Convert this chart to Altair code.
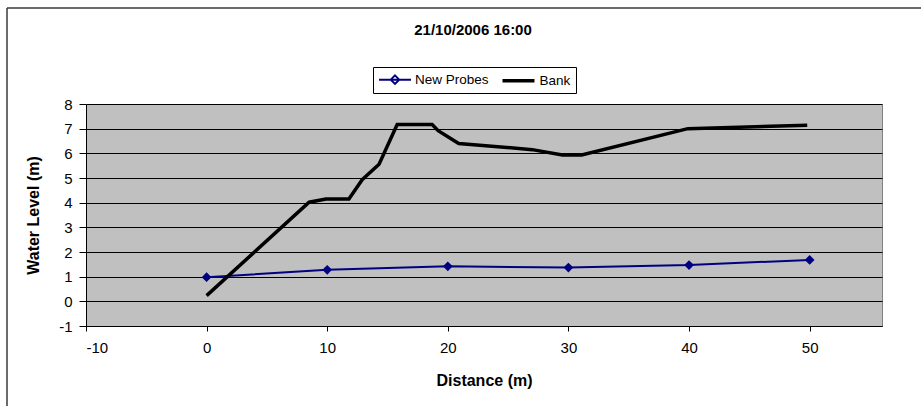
import altair as alt
import pandas as pd

# Probe readings along the transect
probe_distance = [0, 10, 20, 30, 40, 50]
probe_level = [0.98, 1.28, 1.42, 1.37, 1.47, 1.68]

# Bank profile along the same transect
bank_distance = [0, 8.5, 9.9, 11.8, 12.9, 14.3, 15.8, 18.7, 19.2, 20.9, 27.0, 29.5, 31.1, 39.9, 49.8]
bank_level = [0.23, 4.02, 4.15, 4.15, 4.93, 5.56, 7.17, 7.17, 6.92, 6.40, 6.15, 5.93, 5.93, 7.00, 7.14]

x_ticks = [-10, 0, 10, 20, 30, 40, 50]
y_ticks = [-1, 0, 1, 2, 3, 4, 5, 6, 7, 8]

series_names = ["New Probes", "Bank"]
series_colors = ["#000080", "#000000"]
series_widths = [2, 3.5]
# legend glyphs (unit = half the symbol box): a line with a diamond, a plain line
series_glyphs = [
    "M-1,0L3.92,0M1.46,-0.65L2.11,0L1.46,0.65L0.81,0Z",
    "M-1,0L3.92,0",
]

FONT = "Liberation Sans"
W, H = 796, 222
PAD_L, PAD_T = 86, 104

probes = pd.DataFrame({"distance": probe_distance, "level": probe_level, "series": "New Probes"})
bank = pd.DataFrame({"distance": bank_distance, "level": bank_level, "series": "Bank"})
both = pd.concat([probes, bank], ignore_index=True)

x_enc = alt.X(
    "distance:Q",
    scale=alt.Scale(domain=[-10, 56], nice=False, zero=False),
    axis=alt.Axis(
        title="Distance (m)", values=x_ticks, tickCount=len(x_ticks) + 2,
        grid=False, tickSize=5, labelPadding=9, titlePadding=17,
        labelExpr="'' + datum.value", labelOverlap=False,
    ),
)
y_enc = alt.Y(
    "level:Q",
    scale=alt.Scale(domain=[-1, 8], nice=False, zero=False),
    axis=alt.Axis(
        title="Water Level (m)", values=y_ticks, tickCount=len(y_ticks) + 2,
        grid=True, tickSize=7, labelPadding=7, titlePadding=17,
        labelExpr="'' + datum.value", labelOverlap=False,
    ),
)

legend = alt.Legend(
    title=None,
    orient="none",
    legendX=287,
    legendY=-37,
    direction="horizontal",
    symbolSize=169,
    symbolFillColor="#000080",
    symbolOpacity=1,
    labelFont=FONT,
    labelFontSize=13.5,
    labelColor="#000000",
    labelOffset=22,
    columnPadding=6.5,
    padding=5,
    strokeColor="#000000",
    fillColor="#ffffff",
    values=series_names,
)

color_enc = alt.Color(
    "series:N",
    scale=alt.Scale(domain=series_names, range=series_colors),
    legend=legend,
)
width_enc = alt.StrokeWidth(
    "series:N",
    scale=alt.Scale(domain=series_names, range=series_widths),
    legend=legend,
)
shape_enc = alt.Shape(
    "series:N",
    scale=alt.Scale(domain=series_names, range=series_glyphs),
    legend=legend,
)

lines = alt.Chart(both).mark_line().encode(
    x=x_enc, y=y_enc, color=color_enc, strokeWidth=width_enc,
    order=alt.Order("distance:Q"),
)
probe_points = alt.Chart(probes).mark_point(
    shape="diamond", filled=True, size=95, opacity=1, color="#000080"
).encode(x="distance:Q", y="level:Q")

# Legend keys only: no marks drawn, it carries the glyph scale for the legend
legend_keys = alt.Chart(both).mark_point(filled=False).encode(
    x="distance:Q", y="level:Q",
    color=color_enc, strokeWidth=width_enc, shape=shape_enc,
).transform_filter("false")

# Outer chart frame (left and top edges)
frame_src = pd.DataFrame({"k": [0]})
frame_left = alt.Chart(frame_src).mark_rule(color="#3a3a3a", strokeWidth=1.5).encode(
    x=alt.value(7 - PAD_L), y=alt.value(8 - PAD_T), y2=alt.value(420 - PAD_T)
)
frame_top = alt.Chart(frame_src).mark_rule(color="#3a3a3a", strokeWidth=1.5).encode(
    x=alt.value(7 - PAD_L), x2=alt.value(940 - PAD_L), y=alt.value(8 - PAD_T)
)

chart = (
    alt.layer(lines, probe_points, legend_keys, frame_left, frame_top)
    .properties(
        width=W,
        height=H,
        title=alt.TitleParams(
            "21/10/2006 16:00", font=FONT, fontSize=15, fontWeight="bold",
            color="#000000", anchor="middle", dx=-11, offset=-31,
        ),
        autosize=alt.AutoSizeParams(type="none"),
        padding={"left": PAD_L, "top": PAD_T, "right": 921 - PAD_L - W, "bottom": 406 - PAD_T - H},
    )
    .configure(background="#ffffff")
    .configure_view(fill="#c0c0c0", stroke="#808080", strokeWidth=1)
    .configure_axis(
        labelFont=FONT, labelFontSize=15, labelColor="#000000",
        titleFont=FONT, titleFontSize=16, titleFontWeight="bold", titleColor="#000000",
        domainColor="#000000", tickColor="#000000", gridColor="#000000",
        gridWidth=1, gridOpacity=1, domainWidth=1,
    )
)

chart.save("out.html", embed_options={"renderer": "svg", "actions": False})
